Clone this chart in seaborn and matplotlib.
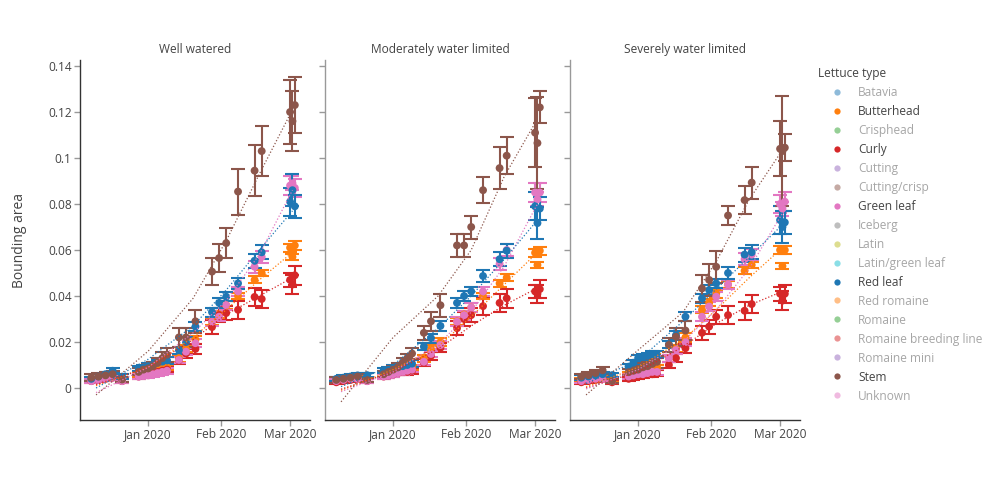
import matplotlib
matplotlib.use('Agg')
import matplotlib.pyplot as plt
from matplotlib.lines import Line2D
import matplotlib.dates as mdates
import pandas as pd
import numpy as np
import seaborn as sns

# sampling dates (same for every panel)
dates = ['2019-12-08', '2019-12-11', '2019-12-14', '2019-12-17', '2019-12-21',
         '2019-12-28', '2019-12-30', '2020-01-01', '2020-01-03', '2020-01-05',
         '2020-01-07', '2020-01-09', '2020-01-14', '2020-01-17', '2020-01-21',
         '2020-01-28', '2020-01-31', '2020-02-03', '2020-02-08', '2020-02-15',
         '2020-02-18', '2020-03-01', '2020-03-02', '2020-03-03']

panels = ['Well watered', 'Moderately water limited', 'Severely water limited']
shown_types = ['Butterhead', 'Curly', 'Green leaf', 'Red leaf', 'Stem']

# Well watered
ww_butterhead = [0.0035, 0.004, 0.0045, 0.005, 0.0035, 0.006, 0.0065, 0.007, 0.0075, 0.008, 0.0085, 0.009,
                 0.013, 0.017, 0.021, 0.0287, 0.032, 0.036, 0.040, 0.047, 0.050, 0.061, 0.057, 0.062]
ww_curly = [0.003, 0.0035, 0.004, 0.0045, 0.003, 0.005, 0.0055, 0.006, 0.0065, 0.007, 0.0075, 0.008,
            0.012, 0.015, 0.017, 0.0265, 0.0317, 0.0326, 0.034, 0.0396, 0.0387, 0.047, 0.045, 0.049]
ww_green_leaf = [0.003, 0.0035, 0.004, 0.0045, 0.003, 0.0049, 0.0052, 0.0055, 0.006, 0.0065, 0.007, 0.0075,
                 0.0122, 0.0158, 0.0195, 0.0288, 0.031, 0.036, 0.042, 0.0527, 0.057, 0.088, 0.089, 0.087]
ww_red_leaf = [0.004, 0.005, 0.006, 0.0075, 0.0049, 0.0085, 0.009, 0.0095, 0.010, 0.011, 0.0115, 0.012,
               0.0165, 0.020, 0.0267, 0.033, 0.037, 0.0397, 0.0455, 0.0553, 0.059, 0.081, 0.086, 0.079]
ww_stem = [0.0045, 0.005, 0.0055, 0.006, 0.0037, 0.007, 0.008, 0.0085, 0.0095, 0.011, 0.013, 0.0145,
           0.022, 0.022, 0.029, 0.0506, 0.0565, 0.063, 0.0854, 0.0945, 0.103, 0.120, 0.116, 0.123]

# Moderately water limited
mw_butterhead = [0.0035, 0.004, 0.004, 0.0045, 0.0035, 0.006, 0.0065, 0.007, 0.0075, 0.008, 0.0085, 0.009,
                 0.013, 0.017, 0.020, 0.029, 0.032, 0.035, 0.040, 0.0455, 0.048, 0.0588, 0.0535, 0.0597]
mw_curly = [0.0025, 0.003, 0.0035, 0.004, 0.003, 0.005, 0.0055, 0.006, 0.0065, 0.007, 0.007, 0.0075,
            0.011, 0.014, 0.0175, 0.026, 0.030, 0.0317, 0.0356, 0.037, 0.039, 0.042, 0.041, 0.043]
mw_green_leaf = [0.003, 0.0035, 0.004, 0.004, 0.003, 0.005, 0.0055, 0.006, 0.0065, 0.007, 0.0075, 0.008,
                 0.0114, 0.0148, 0.0187, 0.0288, 0.0317, 0.035, 0.042, 0.054, 0.060, 0.085, 0.082, 0.085]
mw_red_leaf = [0.004, 0.0045, 0.005, 0.0055, 0.0056, 0.0076, 0.008, 0.0085, 0.009, 0.0095, 0.010, 0.0106,
               0.018, 0.0217, 0.027, 0.037, 0.040, 0.042, 0.0487, 0.056, 0.0597, 0.079, 0.0717, 0.078]
mw_stem = [0.0035, 0.004, 0.0045, 0.005, 0.0035, 0.006, 0.007, 0.008, 0.009, 0.011, 0.013, 0.015,
           0.024, 0.029, 0.036, 0.062, 0.062, 0.070, 0.086, 0.0956, 0.101, 0.111, 0.1065, 0.122]

# Severely water limited
sw_butterhead = [0.0035, 0.004, 0.004, 0.0045, 0.0035, 0.006, 0.0065, 0.007, 0.0075, 0.008, 0.0085, 0.009,
                 0.013, 0.017, 0.022, 0.034, 0.037, 0.041, 0.045, 0.051, 0.0535, 0.060, 0.053, 0.060]
sw_curly = [0.0025, 0.003, 0.0035, 0.004, 0.0025, 0.004, 0.0045, 0.005, 0.0055, 0.006, 0.006, 0.0065,
            0.010, 0.013, 0.0173, 0.024, 0.0267, 0.031, 0.0317, 0.0336, 0.0365, 0.041, 0.038, 0.041]
sw_green_leaf = [0.003, 0.0035, 0.004, 0.004, 0.003, 0.005, 0.0055, 0.006, 0.006, 0.0065, 0.007, 0.007,
                 0.013, 0.0165, 0.020, 0.031, 0.0354, 0.0397, 0.045, 0.056, 0.058, 0.080, 0.078, 0.081]
sw_red_leaf = [0.0045, 0.005, 0.0055, 0.006, 0.0056, 0.0093, 0.011, 0.013, 0.0135, 0.014, 0.0145, 0.0145,
               0.019, 0.023, 0.031, 0.039, 0.0426, 0.0455, 0.050, 0.058, 0.059, 0.073, 0.070, 0.072]
sw_stem = [0.005, 0.0056, 0.0065, 0.0077, 0.003, 0.0069, 0.0075, 0.008, 0.009, 0.0095, 0.0105, 0.0114,
           0.0187, 0.0223, 0.025, 0.0433, 0.047, 0.0527, 0.075, 0.0817, 0.0893, 0.104, 0.103, 0.1045]

# error bar half-widths
err_butterhead = [0.0008, 0.0008, 0.0008, 0.0008, 0.0008, 0.001, 0.001, 0.001, 0.001, 0.0012, 0.0012, 0.0012,
                  0.0015, 0.0015, 0.0018, 0.0015, 0.0015, 0.0018, 0.0015, 0.0015, 0.0015, 0.0018, 0.0012, 0.0018]
err_curly = [0.0008, 0.0008, 0.0008, 0.0008, 0.0008, 0.001, 0.001, 0.001, 0.001, 0.0012, 0.0012, 0.0012,
             0.0015, 0.0018, 0.002, 0.003, 0.003, 0.003, 0.004, 0.004, 0.004, 0.003, 0.004, 0.004]
err_green_leaf = [0.0008, 0.0008, 0.0008, 0.0008, 0.0008, 0.001, 0.001, 0.001, 0.001, 0.0012, 0.0012, 0.0012,
                  0.0015, 0.0015, 0.0018, 0.002, 0.002, 0.002, 0.002, 0.0025, 0.0025, 0.004, 0.003, 0.004]
err_red_leaf = [0.001, 0.001, 0.001, 0.001, 0.001, 0.0012, 0.0012, 0.0013, 0.0013, 0.0014, 0.0015, 0.0015,
                0.0015, 0.002, 0.002, 0.002, 0.002, 0.002, 0.0025, 0.003, 0.003, 0.006, 0.007, 0.005]
err_stem_ww = [0.0015, 0.0015, 0.0015, 0.0015, 0.0012, 0.0015, 0.0015, 0.0018, 0.002, 0.002, 0.0025, 0.003,
               0.004, 0.004, 0.005, 0.006, 0.006, 0.0065, 0.01, 0.011, 0.011, 0.014, 0.013, 0.012]
err_stem_mw = [0.0012, 0.0012, 0.0012, 0.0012, 0.001, 0.0012, 0.0015, 0.0015, 0.0018, 0.002, 0.002, 0.0025,
               0.003, 0.004, 0.005, 0.005, 0.005, 0.005, 0.0057, 0.009, 0.008, 0.015, 0.02, 0.007]
err_stem_sw = [0.0012, 0.0012, 0.0012, 0.0015, 0.001, 0.0012, 0.0015, 0.0015, 0.0018, 0.002, 0.002, 0.0025,
               0.003, 0.004, 0.004, 0.006, 0.007, 0.007, 0.0043, 0.006, 0.007, 0.012, 0.024, 0.006]

# trend line values
trend_dates = ['2019-12-10', '2020-01-01', '2020-01-20', '2020-02-03', '2020-02-17', '2020-03-02']
ww_trend_butterhead = [0.001, 0.009, 0.022, 0.034, 0.047, 0.059]
ww_trend_curly = [0.0015, 0.009, 0.021, 0.032, 0.040, 0.048]
ww_trend_green_leaf = [-0.002, 0.009, 0.024, 0.038, 0.058, 0.086]
ww_trend_red_leaf = [0.0, 0.0125, 0.027, 0.0426, 0.060, 0.077]
ww_trend_stem = [-0.003, 0.016, 0.039, 0.064, 0.093, 0.121]
mw_trend_butterhead = [-0.001, 0.008, 0.018, 0.031, 0.045, 0.059]
mw_trend_curly = [-0.0005, 0.007, 0.017, 0.027, 0.036, 0.0435]
mw_trend_green_leaf = [-0.0016, 0.007, 0.019, 0.033, 0.053, 0.080]
mw_trend_red_leaf = [0.0006, 0.010, 0.026, 0.040, 0.056, 0.073]
mw_trend_stem = [-0.006, 0.022, 0.040, 0.060, 0.092, 0.117]
sw_trend_butterhead = [0.0005, 0.009, 0.021, 0.034, 0.048, 0.061]
sw_trend_curly = [0.0, 0.007, 0.018, 0.028, 0.036, 0.042]
sw_trend_green_leaf = [-0.0004, 0.008, 0.020, 0.034, 0.052, 0.076]
sw_trend_red_leaf = [0.002, 0.012, 0.029, 0.043, 0.057, 0.071]
sw_trend_stem = [-0.003, 0.0165, 0.033, 0.055, 0.082, 0.1035]

all_types = ['Batavia', 'Butterhead', 'Crisphead', 'Curly', 'Cutting', 'Cutting/crisp', 'Green leaf',
             'Iceberg', 'Latin', 'Latin/green leaf', 'Red leaf', 'Red romaine', 'Romaine',
             'Romaine breeding line', 'Romaine mini', 'Stem', 'Unknown']
d3 = ['#1f77b4', '#ff7f0e', '#2ca02c', '#d62728', '#9467bd',
      '#8c564b', '#e377c2', '#7f7f7f', '#bcbd22', '#17becf']
palette = {t: d3[i % 10] for i, t in enumerate(all_types)}

values = {
    'Well watered': [ww_butterhead, ww_curly, ww_green_leaf, ww_red_leaf, ww_stem],
    'Moderately water limited': [mw_butterhead, mw_curly, mw_green_leaf, mw_red_leaf, mw_stem],
    'Severely water limited': [sw_butterhead, sw_curly, sw_green_leaf, sw_red_leaf, sw_stem],
}
errors = {
    'Well watered': [err_butterhead, err_curly, err_green_leaf, err_red_leaf, err_stem_ww],
    'Moderately water limited': [err_butterhead, err_curly, err_green_leaf, err_red_leaf, err_stem_mw],
    'Severely water limited': [err_butterhead, err_curly, err_green_leaf, err_red_leaf, err_stem_sw],
}
trends = {
    'Well watered': [ww_trend_butterhead, ww_trend_curly, ww_trend_green_leaf, ww_trend_red_leaf, ww_trend_stem],
    'Moderately water limited': [mw_trend_butterhead, mw_trend_curly, mw_trend_green_leaf, mw_trend_red_leaf, mw_trend_stem],
    'Severely water limited': [sw_trend_butterhead, sw_trend_curly, sw_trend_green_leaf, sw_trend_red_leaf, sw_trend_stem],
}

rows = []
trows = []
for p in panels:
    for t, v, e, tr in zip(shown_types, values[p], errors[p], trends[p]):
        for d, a, s in zip(dates, v, e):
            rows.append((p, t, pd.Timestamp(d), a, s))
        for d, a in zip(trend_dates, tr):
            trows.append((p, t, pd.Timestamp(d), a))
df = pd.DataFrame(rows, columns=['panel', 'Lettuce type', 'date', 'area', 'err'])
tdf = pd.DataFrame(trows, columns=['panel', 'Lettuce type', 'date', 'area'])

sns.set_style('white')
plt.rcParams['font.family'] = ['Open Sans', 'DejaVu Sans']
plt.rcParams['text.color'] = '#444444'
plt.rcParams['xtick.color'] = '#444444'
plt.rcParams['ytick.color'] = '#444444'

fig = plt.figure(figsize=(10, 5), dpi=100)
lefts = [0.08, 0.325, 0.57]
axs = [fig.add_axes([l, 0.16, 0.23, 0.72]) for l in lefts]

xmin = pd.Timestamp('2019-12-03 05:00')
xmax = pd.Timestamp('2020-03-09 10:00')

for i, (ax, p) in enumerate(zip(axs, panels)):
    sub = df[df['panel'] == p]
    tsub = tdf[tdf['panel'] == p]
    for t in shown_types:
        s = sub[sub['Lettuce type'] == t]
        ax.errorbar(s['date'], s['area'], yerr=s['err'], fmt='none', ecolor=palette[t],
                    elinewidth=1.5, capsize=5, capthick=1.5, zorder=2)
        sns.scatterplot(data=s, x='date', y='area', color=palette[t], s=32,
                        edgecolor='none', legend=False, ax=ax, zorder=3)
        ts = tsub[tsub['Lettuce type'] == t]
        sns.lineplot(data=ts, x='date', y='area', color=palette[t], linewidth=0.9,
                     linestyle=(0, (1.0, 1.6)), legend=False, ax=ax, zorder=4,
                     estimator=None, sort=False)

    ax.set_xlim(xmin, xmax)
    ax.set_ylim(-0.0139, 0.1426)
    ax.set_xticks([pd.Timestamp('2020-01-01'), pd.Timestamp('2020-02-01'), pd.Timestamp('2020-03-01')])
    ax.xaxis.set_major_formatter(mdates.DateFormatter('%b %Y'))
    ax.set_yticks([0, 0.02, 0.04, 0.06, 0.08, 0.1, 0.12, 0.14])
    ax.set_xlabel('')
    ax.set_ylabel('')
    ax.set_title(p, fontsize=8.6, color='#444444', pad=5)
    ax.tick_params(axis='both', which='both', length=4, width=1, color='#999999',
                   labelsize=8.6, pad=2, direction='out', bottom=True, left=True)
    for side in ['top', 'right']:
        ax.spines[side].set_visible(False)
    ax.spines['bottom'].set_color('#333333')
    ax.spines['bottom'].set_linewidth(1)
    if i == 0:
        ax.spines['left'].set_color('#333333')
        ax.yaxis.set_major_formatter(matplotlib.ticker.FuncFormatter(lambda v, pos: '{:g}'.format(round(v, 3))))
    else:
        ax.spines['left'].set_color('#999999')
        ax.tick_params(axis='y', labelleft=False)
    ax.spines['left'].set_linewidth(1)

axs[0].set_ylabel('Bounding area', fontsize=10, color='#444444', labelpad=15)

# legend
handles = []
for t in all_types:
    alpha = 1.0 if t in shown_types else 0.5
    handles.append(Line2D([], [], marker='o', linestyle='none', markersize=4.5,
                          markerfacecolor=palette[t], markeredgecolor='none', alpha=alpha))
leg = fig.legend(handles, all_types, title='Lettuce type', loc='upper left',
                 bbox_to_anchor=(0.818, 0.866), frameon=False, fontsize=8.6,
                 title_fontsize=8.6, alignment='left', handlelength=3.2,
                 handletextpad=0.15, labelspacing=0.5, borderpad=0, borderaxespad=0)
for t, txt in zip(all_types, leg.get_texts()):
    txt.set_color('#444444' if t in shown_types else '#a6a6a6')
leg.get_title().set_color('#444444')

fig.savefig('out.png', dpi=100)
